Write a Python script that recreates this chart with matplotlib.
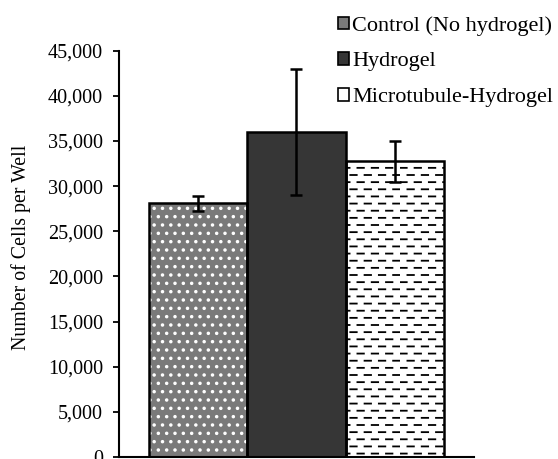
import numpy as np
import matplotlib
matplotlib.use('Agg')
import matplotlib.pyplot as plt
import matplotlib.hatch as mhatch
from matplotlib.path import Path
from matplotlib.patches import Patch
from matplotlib.ticker import StrMethodFormatter

# Dados
groups = ['Control (No hydrogel)', 'Hydrogel', 'Microtubule-Hydrogel']
cells = [28100, 36000, 32750]
errors = [850, 6950, 2270]
y_ticks = [0, 5000, 10000, 15000, 20000, 25000, 30000, 35000, 40000, 45000]


# Hachura horizontal tracejada (substitui a hachura '-' padrão)
class DashedHorizontalHatch(mhatch.HatchPatternBase):
    def __init__(self, hatch, density):
        self.num_lines = int(hatch.count('-') * density * 7 / 6)
        self.num_dashes = self.num_lines // 2
        self.num_vertices = self.num_lines * self.num_dashes * 2

    def set_vertices_and_codes(self, vertices, codes):
        if self.num_lines == 0:
            return
        step = 1.0 / self.num_lines
        dstep = 1.0 / self.num_dashes
        k = 0
        for i in range(self.num_lines):
            y = (i + 0.5) * step
            shift = 0.5 * dstep * (i % 2)
            for j in range(self.num_dashes):
                x0 = j * dstep + shift + 0.02 * dstep
                vertices[k] = (x0, y)
                vertices[k + 1] = (x0 + 0.45 * dstep, y)
                codes[k] = Path.MOVETO
                codes[k + 1] = Path.LINETO
                k += 2


mhatch._hatch_types = [DashedHorizontalHatch if t is mhatch.HorizontalHatch else t
                       for t in mhatch._hatch_types]

plt.rcParams['font.family'] = ['Liberation Serif', 'DejaVu Serif']
plt.rcParams['hatch.linewidth'] = 1.3

fig = plt.figure(figsize=(5.58, 4.59), dpi=100)
ax = fig.add_axes([119 / 558, 1 - 457 / 459, 355 / 558, (457 - 50.7) / 459])

x = np.array([-1, 0, 1]) / 3
width = 1 / 3
faces = ['#7a7a7a', '#363636', 'white']
hatch_colors = ['white', '#363636', 'black']
hatches = ['..', None, '--']

for xi, v, fc, hc, h in zip(x, cells, faces, hatch_colors, hatches):
    # preenchimento + hachura
    ax.bar(xi, v, width=width, color=fc, edgecolor=hc, hatch=h, linewidth=0, zorder=2)
    # contorno preto
    ax.bar(xi, v, width=width, fill=False, edgecolor='black', linewidth=1.8, zorder=3)

ax.errorbar(x, cells, yerr=errors, fmt='none', ecolor='black', elinewidth=1.8,
            capsize=4.5, capthick=1.8, zorder=4)

ax.set_xlim(-0.6, 0.6)
ax.set_ylim(0, 45000)
ax.set_yticks(y_ticks)
ax.yaxis.set_major_formatter(StrMethodFormatter('{x:,.0f}'))
ax.set_xticks([])
ax.tick_params(axis='y', direction='out', length=4.5, width=1.3, pad=7, labelsize=14.5)
for side in ['top', 'right']:
    ax.spines[side].set_visible(False)
for side in ['left', 'bottom']:
    ax.spines[side].set_linewidth(1.5)
ax.set_ylabel('Number of Cells per Well', fontsize=14.3)
ax.yaxis.set_label_coords((31 - 119) / 355, (457 - 247.5) / 406.3)

handles = [Patch(facecolor=faces[0], edgecolor='black', linewidth=1.2),
           Patch(facecolor=faces[1], edgecolor='black', linewidth=1.2),
           Patch(facecolor=faces[2], edgecolor='black', linewidth=1.2)]
fig.legend(handles, groups, loc='upper left', bbox_to_anchor=(338 / 558, 1 - 16 / 459),
           frameon=False, fontsize=16, handlelength=0.5, handleheight=0.5,
           handletextpad=0.15, labelspacing=0.74, borderpad=0, borderaxespad=0)

fig.savefig('out.png', dpi=100)
